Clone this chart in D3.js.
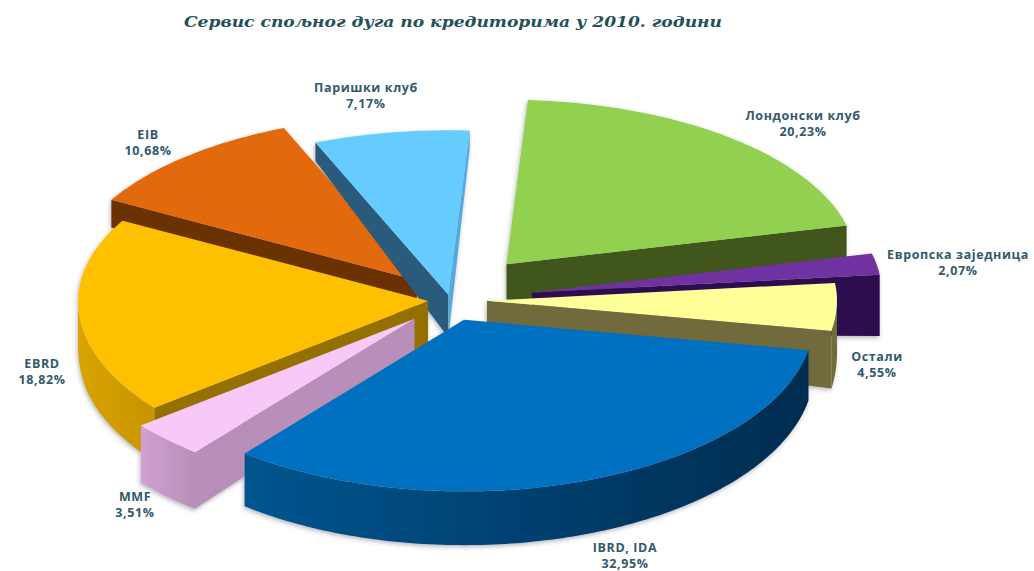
<!DOCTYPE html>
<html><head><meta charset="utf-8">
<script src="https://cdn.jsdelivr.net/npm/d3@7/dist/d3.min.js"></script>
<style>html,body{margin:0;background:#fff}svg{display:block}</style></head>
<body><svg id="c" width="1034" height="571"></svg>
<script>
// data
const categories=["Лондонски клуб","Европска заједница","Остали","IBRD, IDA","MMF","EBRD","EIB","Паришки клуб"];
const values=[20.23,2.07,4.55,32.95,3.51,18.82,10.68,7.17];
const valueLabels=["20,23%","2,07%","4,55%","32,95%","3,51%","18,82%","10,68%","7,17%"];
const titleText="Сервис спољног дуга по кредиторима у 2010. години";
// style & layout
const topColors=["#92d050","#7030a0","#ffff99","#0070c0","#f8c8f8","#ffc000","#e26b0a","#66ccff"];
const wallColors=["#41571f","#2f1050","#6f6a3e","#003a66","#b88fb8","#947000","#6b3000","#2b5a7c"];
const endWallColors=["#41571f","#2f1050","#6f6a3e","#003a66","#b88fb8","#947000","#6b3000","#55aadd"];
const outerLeft=["#41571f","#2f1050","#6f6a3e","#00558f","#d0a0d0","#d8a400","#8a4004","#2b5a7c"];
const outerRight=["#41571f","#2f1050","#6f6a3e","#002c50","#b88fb8","#c89400","#8a4004","#2b5a7c"];
const explode=[88,83,37,40,50,22,50,10];
const depthBoost=[5,22,9,0,6,2,0,0];
const drawOrder=[0,6,7,1,2,5,4,3];
const labelPos=[[803,120],[958,259],[877,361],[625,552],[135,501],[42,368],[148,139],[366,92]];
const cx=450,cy=300,R=350,explodeSquash=0.53,backSquash=0.47,frontSquash=0.49;

const svg=d3.select("#c");
const defs=svg.append("defs");
const f=defs.append("filter").attr("id","sh").attr("x","-10%").attr("y","-10%").attr("width","120%").attr("height","120%");
f.append("feDropShadow").attr("dx",-1).attr("dy",2).attr("stdDeviation",2).attr("flood-color","#334").attr("flood-opacity",.35);

svg.append("text").attr("x",453).attr("y",27).attr("text-anchor","middle")
  .attr("font-family","'DejaVu Serif',serif").attr("font-style","italic").attr("font-weight","bold")
  .attr("font-size",15.5).attr("fill","#24505a").attr("textLength",538).attr("lengthAdjust","spacingAndGlyphs").text(titleText);

const arcs=d3.pie().sort(null).startAngle(3.5*Math.PI/180).endAngle(363.5*Math.PI/180)(values);
const thick=d3.scaleLinear().domain([140,340,500]).range([18,50,54]).clamp(true);
const line=d3.line();
function pt(i,a,r){
  const m=(arcs[i].startAngle+arcs[i].endAngle)/2, c=Math.cos(a);
  return [cx+explode[i]*Math.sin(m)+r*Math.sin(a), cy-explodeSquash*explode[i]*Math.cos(m)-(c>0?backSquash:frontSquash)*r*c];
}
function arcPts(i,a0,a1){
  const n=Math.max(2,Math.ceil((a1-a0)*60));
  return d3.range(n+1).map(k=>pt(i,a0+(a1-a0)*k/n,R));
}
function wall(i,points){
  const ax=pt(i,0,0)[0];
  const down=p=>[p[0],p[1]+thick(p[1])+depthBoost[i]*Math.abs(p[0]-ax)/R];
  return line(points.concat(points.slice().reverse().map(down)))+"Z";
}
const TAU=2*Math.PI,norm=a=>((a%TAU)+TAU)%TAU;

const g=svg.append("g").attr("filter","url(#sh)");
drawOrder.forEach(i=>{
  const d=arcs[i],a0=d.startAngle,a1=d.endAngle,s=g.append("g");
  const apex=pt(i,a0,0);
  if(norm(a0)>Math.PI) s.append("path").attr("d",wall(i,[apex,pt(i,a0,R)])).attr("fill",wallColors[i]);
  if(norm(a1)<Math.PI) s.append("path").attr("d",wall(i,[apex,pt(i,a1,R)])).attr("fill",endWallColors[i]);
  const lo=Math.max(a0,Math.PI/2),hi=Math.min(a1,3*Math.PI/2);
  if(hi>lo){
    const pts=arcPts(i,lo,hi),xs=d3.extent(pts,p=>p[0]),id="w"+i;
    const gr=defs.append("linearGradient").attr("id",id).attr("gradientUnits","userSpaceOnUse")
      .attr("x1",xs[0]).attr("x2",xs[1]).attr("y1",0).attr("y2",0);
    gr.append("stop").attr("offset",0).attr("stop-color",outerLeft[i]);
    gr.append("stop").attr("offset",1).attr("stop-color",outerRight[i]);
    s.append("path").attr("d",wall(i,pts)).attr("fill",`url(#${id})`);
  }
  s.append("path").attr("d",line([apex].concat(arcPts(i,a0,a1)))+"Z").attr("fill",topColors[i]);
});

categories.forEach((c,i)=>{
  const t=svg.append("text").attr("text-anchor","middle").attr("font-family","'Open Sans',sans-serif")
    .attr("font-weight","bold").attr("font-size",12.5).attr("letter-spacing",0.6).attr("fill","#31596b")
    .attr("transform",`translate(${labelPos[i][0]},${labelPos[i][1]})`);
  t.append("tspan").attr("x",0).attr("y",0).text(c);
  t.append("tspan").attr("x",0).attr("y",16).text(valueLabels[i]);
});
</script></body></html>
